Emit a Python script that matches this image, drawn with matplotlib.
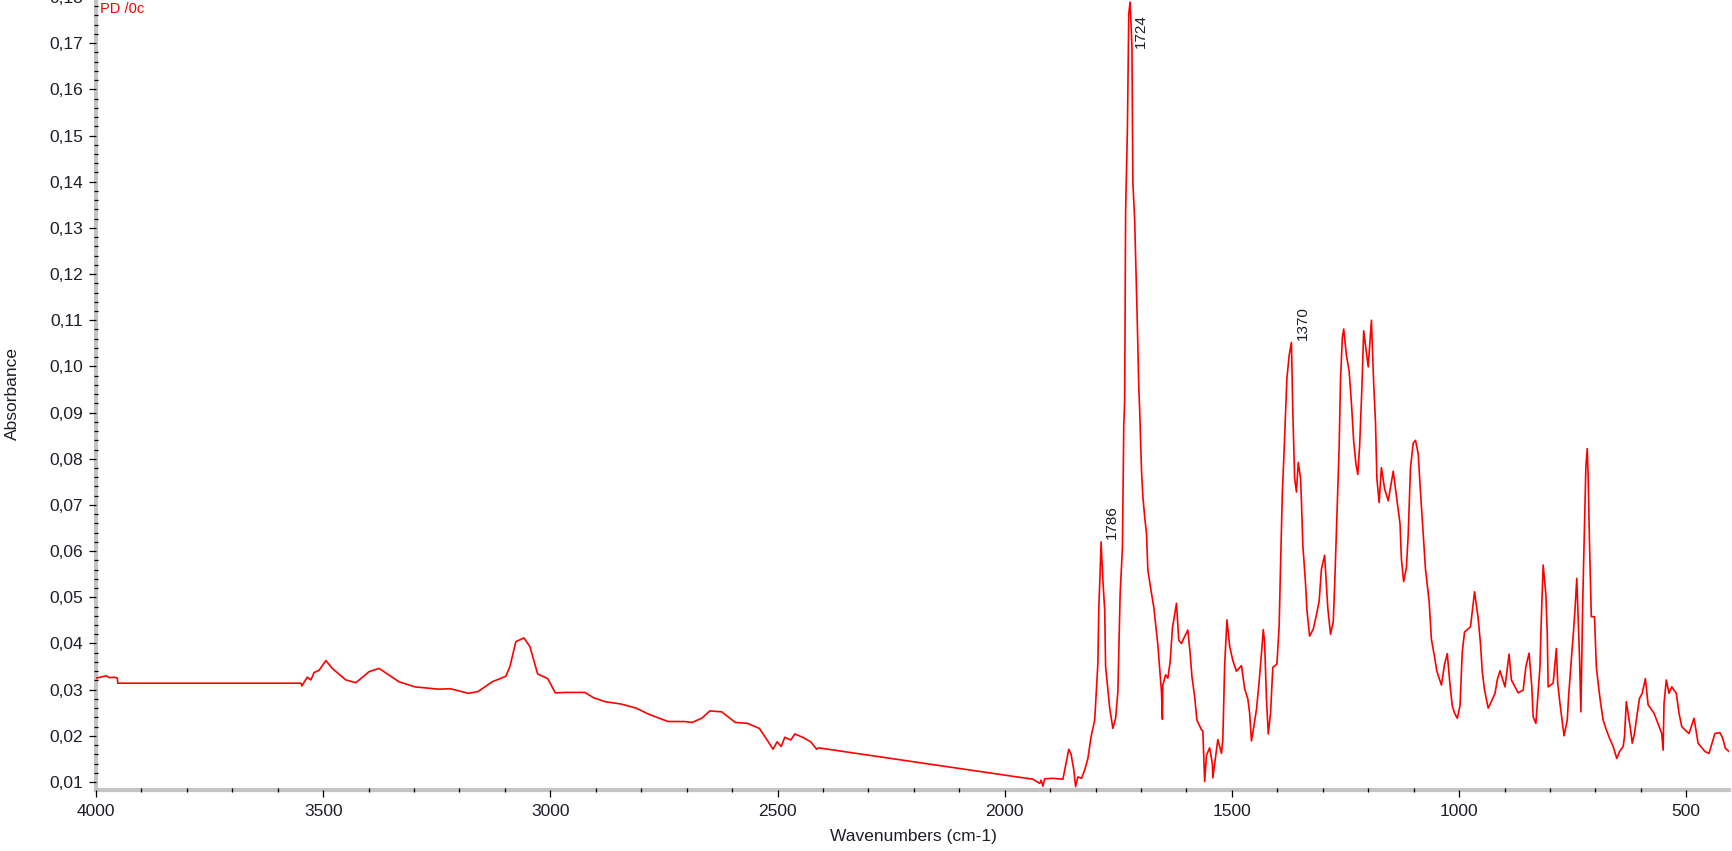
import matplotlib
matplotlib.use("Agg")
import matplotlib.pyplot as plt
from matplotlib.ticker import MultipleLocator, FuncFormatter

plt.rcParams['font.family'] = ['Liberation Sans', 'DejaVu Sans']

# spectrum (wavenumber, absorbance)
wavenumber = [4000, 3990, 3978, 3970, 3960, 3953, 3952, 3549, 3547, 3535, 3527, 3520,
              3509, 3494, 3480, 3450, 3428, 3399, 3377, 3339, 3333, 3298, 3246, 3220,
              3180, 3159, 3128, 3098, 3089, 3076, 3058, 3045, 3028, 3006, 2989, 2967,
              2924, 2906, 2880, 2845, 2811, 2784, 2741, 2706, 2688, 2667, 2649, 2623,
              2593, 2566, 2540, 2523, 2510, 2501, 2492, 2484, 2471, 2462, 2445, 2427,
              2414, 2410, 1938, 1923, 1920, 1916, 1912, 1894, 1872, 1868, 1859, 1854,
              1848, 1844, 1839, 1831, 1824, 1817, 1810, 1802, 1798, 1795, 1793, 1790,
              1788, 1784, 1780, 1778, 1773, 1769, 1762, 1756, 1751, 1746, 1741, 1738,
              1736, 1734, 1730, 1727, 1724, 1720, 1718, 1714, 1710, 1708, 1705, 1703,
              1699, 1696, 1692, 1688, 1685, 1677, 1672, 1668, 1663, 1655, 1653, 1652,
              1646, 1641, 1636, 1631, 1622, 1617, 1611, 1608, 1597, 1592, 1588, 1582,
              1577, 1567, 1564, 1560, 1556, 1549, 1543, 1542, 1531, 1523, 1520, 1516,
              1511, 1505, 1498, 1490, 1479, 1472, 1465, 1461, 1457, 1452, 1446, 1440,
              1435, 1431, 1428, 1424, 1420, 1415, 1410, 1401, 1396, 1393, 1389, 1386,
              1381, 1379, 1374, 1369, 1366, 1362, 1358, 1354, 1349, 1347, 1344, 1338,
              1335, 1329, 1321, 1314, 1308, 1303, 1296, 1289, 1283, 1277, 1274, 1269,
              1264, 1261, 1257, 1254, 1248, 1242, 1237, 1232, 1227, 1223, 1219, 1214,
              1210, 1200, 1193, 1188, 1184, 1181, 1176, 1171, 1164, 1156, 1145, 1134,
              1130, 1127, 1122, 1116, 1112, 1107, 1101, 1096, 1090, 1085, 1079, 1074,
              1066, 1061, 1054, 1049, 1039, 1032, 1026, 1020, 1015, 1010, 1004, 998,
              993, 988, 975, 971, 966, 958, 953, 949, 944, 936, 929, 921,
              916, 910, 899, 890, 885, 870, 859, 853, 846, 840, 837, 831,
              822, 819, 815, 809, 806, 804, 793, 789, 786, 783, 778, 769,
              762, 759, 752, 748, 745, 741, 735, 732, 728, 723, 721, 718,
              716, 713, 709, 702, 698, 694, 689, 683, 676, 669, 661, 653,
              647, 639, 636, 632, 623, 619, 614, 610, 603, 597, 590, 584,
              571, 564, 554, 551, 549, 544, 538, 532, 522, 516, 510, 503,
              494, 483, 474, 459, 450, 437, 426, 420, 414, 406]
absorbance = [0.0325, 0.0327, 0.0330, 0.0326, 0.0327, 0.0325, 0.0314, 0.0314, 0.0308, 0.0327, 0.0321, 0.0337,
              0.0342, 0.0363, 0.0346, 0.0321, 0.0315, 0.0339, 0.0346, 0.0321, 0.0317, 0.0306, 0.0301, 0.0302,
              0.0292, 0.0296, 0.0317, 0.0329, 0.0350, 0.0404, 0.0412, 0.0393, 0.0334, 0.0324, 0.0293, 0.0294,
              0.0294, 0.0283, 0.0274, 0.0269, 0.0260, 0.0247, 0.0231, 0.0231, 0.0229, 0.0238, 0.0254, 0.0252,
              0.0229, 0.0227, 0.0216, 0.0191, 0.0171, 0.0187, 0.0177, 0.0197, 0.0191, 0.0204, 0.0197, 0.0187,
              0.0171, 0.0174, 0.0106, 0.0097, 0.0104, 0.0091, 0.0107, 0.0108, 0.0106, 0.0126, 0.0171, 0.0160,
              0.0126, 0.0090, 0.0111, 0.0108, 0.0126, 0.0151, 0.0198, 0.0234, 0.0306, 0.0357, 0.0476, 0.0555,
              0.0620, 0.0537, 0.0472, 0.0350, 0.0299, 0.0260, 0.0216, 0.0238, 0.0295, 0.0508, 0.0606, 0.0873,
              0.0927, 0.1334, 0.1515, 0.1764, 0.1789, 0.1692, 0.1399, 0.1316, 0.1161, 0.1086, 0.0956, 0.0905,
              0.0775, 0.0718, 0.0674, 0.0638, 0.0559, 0.0508, 0.0479, 0.0443, 0.0397, 0.0295, 0.0236, 0.0310,
              0.0332, 0.0325, 0.0360, 0.0433, 0.0487, 0.0407, 0.0400, 0.0407, 0.0429, 0.0379, 0.0328, 0.0285,
              0.0234, 0.0213, 0.0211, 0.0101, 0.0158, 0.0174, 0.0139, 0.0109, 0.0192, 0.0162, 0.0192, 0.0352,
              0.0451, 0.0394, 0.0363, 0.0340, 0.0352, 0.0302, 0.0280, 0.0249, 0.0189, 0.0219, 0.0257, 0.0318,
              0.0378, 0.0430, 0.0401, 0.0280, 0.0204, 0.0249, 0.0348, 0.0355, 0.0439, 0.0568, 0.0728, 0.0796,
              0.0921, 0.0974, 0.1024, 0.1052, 0.0902, 0.0758, 0.0728, 0.0792, 0.0758, 0.0709, 0.0614, 0.0530,
              0.0473, 0.0416, 0.0431, 0.0462, 0.0492, 0.0561, 0.0591, 0.0477, 0.0420, 0.0447, 0.0522, 0.0674,
              0.0826, 0.0971, 0.1062, 0.1081, 0.1024, 0.0990, 0.0921, 0.0838, 0.0788, 0.0766, 0.0826, 0.0952,
              0.1077, 0.0999, 0.1100, 0.0963, 0.0879, 0.0758, 0.0705, 0.0781, 0.0735, 0.0709, 0.0773, 0.0690,
              0.0659, 0.0583, 0.0534, 0.0564, 0.0636, 0.0781, 0.0834, 0.0840, 0.0811, 0.0728, 0.0636, 0.0561,
              0.0492, 0.0409, 0.0371, 0.0340, 0.0310, 0.0355, 0.0378, 0.0310, 0.0265, 0.0249, 0.0238, 0.0265,
              0.0382, 0.0425, 0.0436, 0.0469, 0.0512, 0.0454, 0.0400, 0.0339, 0.0299, 0.0260, 0.0274, 0.0292,
              0.0321, 0.0341, 0.0306, 0.0377, 0.0321, 0.0293, 0.0299, 0.0350, 0.0379, 0.0306, 0.0241, 0.0227,
              0.0350, 0.0454, 0.0570, 0.0505, 0.0422, 0.0306, 0.0314, 0.0357, 0.0389, 0.0314, 0.0270, 0.0200,
              0.0234, 0.0285, 0.0379, 0.0429, 0.0472, 0.0541, 0.0371, 0.0252, 0.0487, 0.0696, 0.0783, 0.0822,
              0.0761, 0.0617, 0.0458, 0.0458, 0.0350, 0.0314, 0.0274, 0.0234, 0.0213, 0.0195, 0.0177, 0.0151,
              0.0166, 0.0177, 0.0198, 0.0274, 0.0216, 0.0184, 0.0205, 0.0234, 0.0281, 0.0292, 0.0324, 0.0267,
              0.0249, 0.0231, 0.0205, 0.0169, 0.0270, 0.0321, 0.0292, 0.0306, 0.0292, 0.0249, 0.0220, 0.0213,
              0.0205, 0.0238, 0.0184, 0.0166, 0.0162, 0.0205, 0.0207, 0.0195, 0.0173, 0.0166]

# labelled peaks: (wavenumber, absorbance where label starts)
peak_labels = ['1786', '1724', '1370']
peak_pos = [1788, 1724, 1369]
peak_y = [0.0620, 0.1684, 0.1052]

fig = plt.figure(figsize=(17.33, 8.51), dpi=100)
# axes goes a hair above the top so 0,18 tick gets cut off like in the original
ax = fig.add_axes([96 / 1733, 1 - 790 / 851, 1633 / 1733, 793 / 851])

ax.plot(wavenumber, absorbance, color='#ff0000', lw=1.2, zorder=3)

ax.set_xlim(4000, 406)
ax.set_ylim(0.01 - 8 / 4620, 0.18)

ax.xaxis.set_major_locator(MultipleLocator(500))
ax.xaxis.set_minor_locator(MultipleLocator(100))
ax.yaxis.set_major_locator(MultipleLocator(0.01))
ax.yaxis.set_minor_locator(MultipleLocator(0.002))
ax.yaxis.set_major_formatter(FuncFormatter(lambda v, p: f'{v:.2f}'.replace('.', ',')))
ax.xaxis.set_major_formatter(FuncFormatter(lambda v, p: f'{v:.0f}'))

for side in ['top', 'right']:
    ax.spines[side].set_visible(False)
for side in ['left', 'bottom']:
    ax.spines[side].set_color('#c4c4c4')
    ax.spines[side].set_linewidth(3)
    ax.spines[side].set_zorder(1)

ax.tick_params(which='major', direction='out', length=5, width=0.9, color='black',
               labelsize=12.5, labelcolor='#1e1e28', pad=4)
ax.tick_params(which='minor', direction='inout', length=3.5, width=0.9, color='black')
ax.tick_params(axis='x', which='major', pad=5)

for lab, xw, yv in zip(peak_labels, peak_pos, peak_y):
    ax.annotate(lab, (xw, yv), xytext=(8, 2), textcoords='offset points',
                rotation=90, ha='center', va='bottom', fontsize=11, color='#1e1e28')

fig.text(100 / 1733, 1 - 2 / 851, 'PD /0c', color='#ff0000', fontsize=10.5, ha='left', va='top')
fig.text(12 / 1733, 1 - 393 / 851, 'Absorbance', rotation=90, ha='center', va='center',
         fontsize=12.5, color='#1e1e28')
fig.text(913 / 1733, 1 - 837 / 851, 'Wavenumbers (cm-1)', ha='center', va='center',
         fontsize=12.5, color='#1e1e28')

fig.savefig('out.png', dpi=100)
